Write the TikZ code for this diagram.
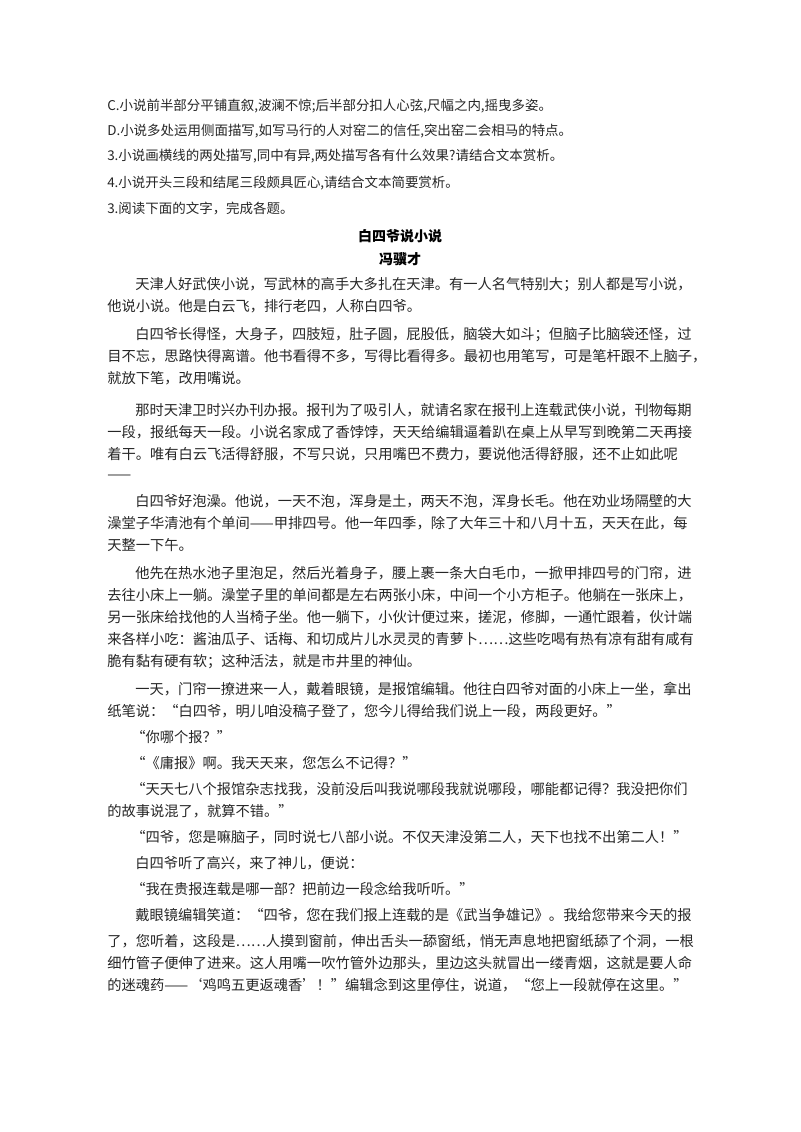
\documentclass[tikz,border=0pt]{standalone}
\usepackage{fontspec}
\newfontfamily\cjk{Noto Sans CJK SC}
\newfontfamily\cjkb{Noto Sans CJK SC}[BoldFont={* Bold}]
\begin{document}
\begin{tikzpicture}[x=0.75pt,y=-0.75pt,
  ln/.style={anchor=base west,inner sep=0pt,font=\cjk\fontsize{10.7pt}{12pt}\selectfont,text=black!85},
  top/.style={anchor=base west,inner sep=0pt,font=\cjk\fontsize{10.1pt}{12pt}\selectfont,text=black!85},
  ttl/.style={anchor=base,inner sep=0pt,font=\cjk\bfseries\fontsize{10.5pt}{12pt}\selectfont}]
\fill[white] (0,0) rectangle (800,1132);
\node[top] (q1) at (107,110) {C.小说前半部分平铺直叙,波澜不惊;后半部分扣人心弦,尺幅之内,摇曳多姿。};
\node[top] (q2) at (107,135) {D.小说多处运用侧面描写,如写马行的人对窑二的信任,突出窑二会相马的特点。};
\node[top] (q3) at (107,160) {3.小说画横线的两处描写,同中有异,两处描写各有什么效果?请结合文本赏析。};
\node[top] (q4) at (107,187) {4.小说开头三段和结尾三段颇具匠心,请结合文本简要赏析。};
\node[top] (q5) at (107,213) {3.阅读下面的文字，完成各题。};
\node[ttl] (title) at (400,241) {白四爷说小说};
\node[ttl] (author) at (400,264) {冯骥才};
\node[ln] (b1) at (135,289) {天津人好武侠小说，写武林的高手大多扎在天津。有一人名气特别大；别人都是写小说，};
\node[ln] (b2) at (107,311) {他说小说。他是白云飞，排行老四，人称白四爷。};
\node[ln] (b3) at (135,339) {白四爷长得怪，大身子，四肢短，肚子圆，屁股低，脑袋大如斗；但脑子比脑袋还怪，过};
\node[ln] (b4) at (107,361) {目不忘，思路快得离谱。他书看得不多，写得比看得多。最初也用笔写，可是笔杆跟不上脑子，};
\node[ln] (b5) at (107,383) {就放下笔，改用嘴说。};
\node[ln] (b6) at (135,415) {那时天津卫时兴办刊办报。报刊为了吸引人，就请名家在报刊上连载武侠小说，刊物每期};
\node[ln] (b7) at (107,437) {一段，报纸每天一段。小说名家成了香饽饽，天天给编辑逼着趴在桌上从早写到晚第二天再接};
\node[ln] (b8) at (107,459) {着干。唯有白云飞活得舒服，不写只说，只用嘴巴不费力，要说他活得舒服，还不止如此呢};
\node[ln] (b9) at (107,479) {——};
\node[ln] (b10) at (135,506) {白四爷好泡澡。他说，一天不泡，浑身是土，两天不泡，浑身长毛。他在劝业场隔壁的大};
\node[ln] (b11) at (107,528) {澡堂子华清池有个单间——甲排四号。他一年四季，除了大年三十和八月十五，天天在此，每};
\node[ln] (b12) at (107,550) {天整一下午。};
\node[ln] (b13) at (135,578) {他先在热水池子里泡足，然后光着身子，腰上裹一条大白毛巾，一掀甲排四号的门帘，进};
\node[ln] (b14) at (107,600) {去往小床上一躺。澡堂子里的单间都是左右两张小床，中间一个小方柜子。他躺在一张床上，};
\node[ln] (b15) at (107,622) {另一张床给找他的人当椅子坐。他一躺下，小伙计便过来，搓泥，修脚，一通忙跟着，伙计端};
\node[ln] (b16) at (107,644) {来各样小吃：酱油瓜子、话梅、和切成片儿水灵灵的青萝卜……这些吃喝有热有凉有甜有咸有};
\node[ln] (b17) at (107,666) {脆有黏有硬有软；这种活法，就是市井里的神仙。};
\node[ln] (b18) at (135,694) {一天，门帘一撩进来一人，戴着眼镜，是报馆编辑。他往白四爷对面的小床上一坐，拿出};
\node[ln] (b19) at (107,716) {纸笔说：“白四爷，明儿咱没稿子登了，您今儿得给我们说上一段，两段更好。”};
\node[ln] (b20) at (131,742) {“你哪个报？”};
\node[ln] (b21) at (131,768) {“《庸报》啊。我天天来，您怎么不记得？”};
\node[ln] (b22) at (131,794) {“天天七八个报馆杂志找我，没前没后叫我说哪段我就说哪段，哪能都记得？我没把你们};
\node[ln] (b23) at (107,816) {的故事说混了，就算不错。”};
\node[ln] (b24) at (131,842) {“四爷，您是嘛脑子，同时说七八部小说。不仅天津没第二人，天下也找不出第二人！”};
\node[ln] (b25) at (135,868) {白四爷听了高兴，来了神儿，便说：};
\node[ln] (b26) at (131,894) {“我在贵报连载是哪一部？把前边一段念给我听听。”};
\node[ln] (b27) at (135,920) {戴眼镜编辑笑道：“四爷，您在我们报上连载的是《武当争雄记》。我给您带来今天的报};
\node[ln] (b28) at (107,946) {了，您听着，这段是……人摸到窗前，伸出舌头一舔窗纸，悄无声息地把窗纸舔了个洞，一根};
\node[ln] (b29) at (107,968) {细竹管子便伸了进来。这人用嘴一吹竹管外边那头，里边这头就冒出一缕青烟，这就是要人命};
\node[ln] (b30) at (107,990) {的迷魂药——‘鸡鸣五更返魂香’！”编辑念到这里停住，说道，“您上一段就停在这里。”};
\end{tikzpicture}
\end{document}
